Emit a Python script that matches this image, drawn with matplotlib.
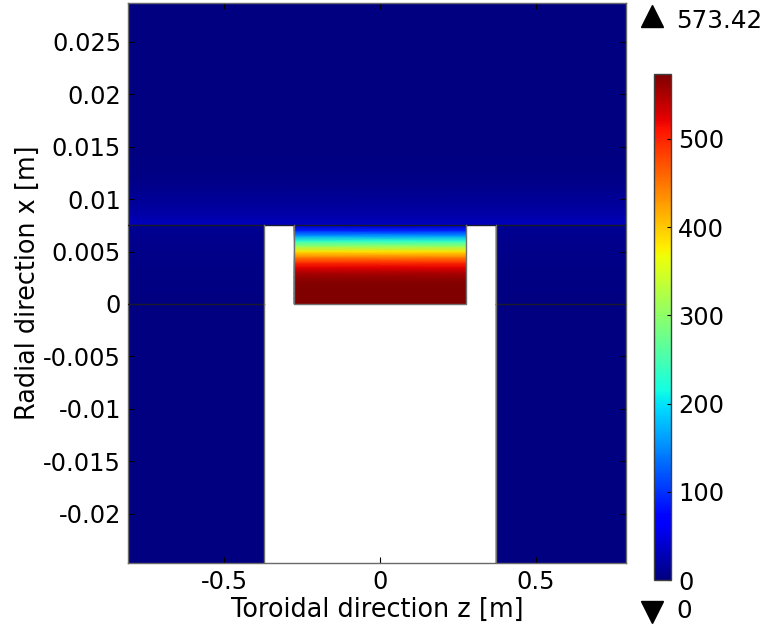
import numpy as np
import matplotlib
matplotlib.use("Agg")
import matplotlib.pyplot as plt
from matplotlib.colors import Normalize
from matplotlib.cm import ScalarMappable
from matplotlib.lines import Line2D

plt.rcParams['font.family'] = ['DejaVu Sans']
plt.rcParams['axes.unicode_minus'] = False

# ---- data ----
vmin, vmax = 0.0, 573.42
cbar_ticks = [0, 100, 200, 300, 400, 500]
xticks = [-0.5, 0, 0.5]
xtick_labels = ["-0.5", "0", "0.5"]
yticks = [0.025, 0.02, 0.015, 0.01, 0.005, 0, -0.005, -0.01, -0.015, -0.02]
ytick_labels = ["0.025", "0.02", "0.015", "0.01", "0.005", "0", "-0.005", "-0.01", "-0.015", "-0.02"]

# inner heated block profile (height x [m] -> value)
inner_y = [0.0, 0.0005, 0.001, 0.0015, 0.002, 0.0025, 0.003, 0.0035, 0.004,
           0.0045, 0.005, 0.0055, 0.006, 0.0065, 0.007, 0.0075]
inner_v = [573, 573, 573, 572, 570, 564, 549, 522, 490,
           440, 385, 305, 235, 160, 90, 30]

# upper region above the block (full width)
upper_y = [0.0075, 0.0085, 0.0095, 0.0105, 0.0115, 0.0125, 0.015, 0.02, 0.0287]
upper_v = [33, 22, 14, 9, 5, 3, 1, 0.3, 0]

# side regions beside the gap, 0 < x < 0.0075
side_y = [0.0, 0.0025, 0.005, 0.0075]
side_v = [1, 3, 6, 11]

# lower side regions, x < 0
low_y = [-0.0247, 0.0]
low_v = [0, 0]

# geometry
z_min, z_max = -0.81, 0.79
x_min, x_max = -0.0247, 0.0287
gap_half = 0.373
block_half = 0.2765
x_top = 0.0075

TICK_FS = 17.3
LABEL_FS = 18.4

cmap = plt.get_cmap('jet')
norm = Normalize(vmin=vmin, vmax=vmax)

fig = plt.figure(figsize=(7.64, 6.28), dpi=100)
ax = fig.add_axes([128/764, 1-563/628, (626-128)/764, (563-3)/628])
ax.set_facecolor('white')


def band(z0, z1, ys, vs):
    ys = np.asarray(ys, float)
    vs = np.asarray(vs, float)
    Z, Y = np.meshgrid([z0, z1], ys)
    V = np.column_stack([vs, vs])
    ax.pcolormesh(Z, Y, V, cmap=cmap, norm=norm, shading='gouraud',
                  rasterized=True, zorder=1)


band(z_min, z_max, upper_y, upper_v)
band(z_min, -gap_half, side_y, side_v)
band(gap_half, z_max, side_y, side_v)
band(z_min, -gap_half, low_y, low_v)
band(gap_half, z_max, low_y, low_v)
band(-block_half, block_half, inner_y, inner_v)

# edges
ax.plot([z_min, z_max], [x_top, x_top], color='#1a1a2a', lw=1.0, zorder=3)
ax.plot([z_min, -gap_half], [0, 0], color='#1a1a2a', lw=1.0, zorder=3)
ax.plot([gap_half, z_max], [0, 0], color='#1a1a2a', lw=1.0, zorder=3)
ax.plot([-gap_half, -gap_half], [x_min, x_top], color='#707070', lw=1.0, zorder=3)
ax.plot([gap_half, gap_half], [x_min, x_top], color='#707070', lw=1.0, zorder=3)
ax.plot([-block_half, -block_half, block_half, block_half],
        [x_top, 0, 0, x_top], color='#707070', lw=1.0, zorder=3)

ax.set_xlim(z_min, z_max)
ax.set_ylim(x_min, x_max)
ax.set_xticks(xticks)
ax.set_xticklabels(xtick_labels)
ax.set_yticks(yticks)
ax.set_yticklabels(ytick_labels)
ax.tick_params(direction='in', length=4, width=0.8, top=True, right=True,
               labelsize=TICK_FS, pad=5, color='black')
for s in ax.spines.values():
    s.set_color('#6a6a6a')
    s.set_linewidth(1.0)
ax.set_xlabel('Toroidal direction z [m]', fontsize=LABEL_FS, labelpad=2.5)
ax.set_ylabel('Radial direction x [m]', fontsize=LABEL_FS, labelpad=1.5)

# colorbar
cax = fig.add_axes([654/764, 1-580/628, 17/764, (580-74)/628])
sm = ScalarMappable(norm=norm, cmap=cmap)
cb = fig.colorbar(sm, cax=cax, ticks=cbar_ticks)
cb.outline.set_edgecolor('#404040')
cb.outline.set_linewidth(1.0)
cax.tick_params(direction='in', length=3, labelsize=TICK_FS, pad=5, color='black')

fig.add_artist(Line2D([652/764], [1-16/628], marker='^', markersize=16.5,
                      color='black', linestyle='none', transform=fig.transFigure))
fig.add_artist(Line2D([652/764], [1-611.5/628], marker='v', markersize=16.5,
                      color='black', linestyle='none', transform=fig.transFigure))
fig.text(676/764, 1-21/628, '573.42', fontsize=TICK_FS + 0.4, ha='left', va='center')
fig.text(676/764, 1-611/628, '0', fontsize=TICK_FS + 0.4, ha='left', va='center')

fig.savefig('out.png', dpi=100)
